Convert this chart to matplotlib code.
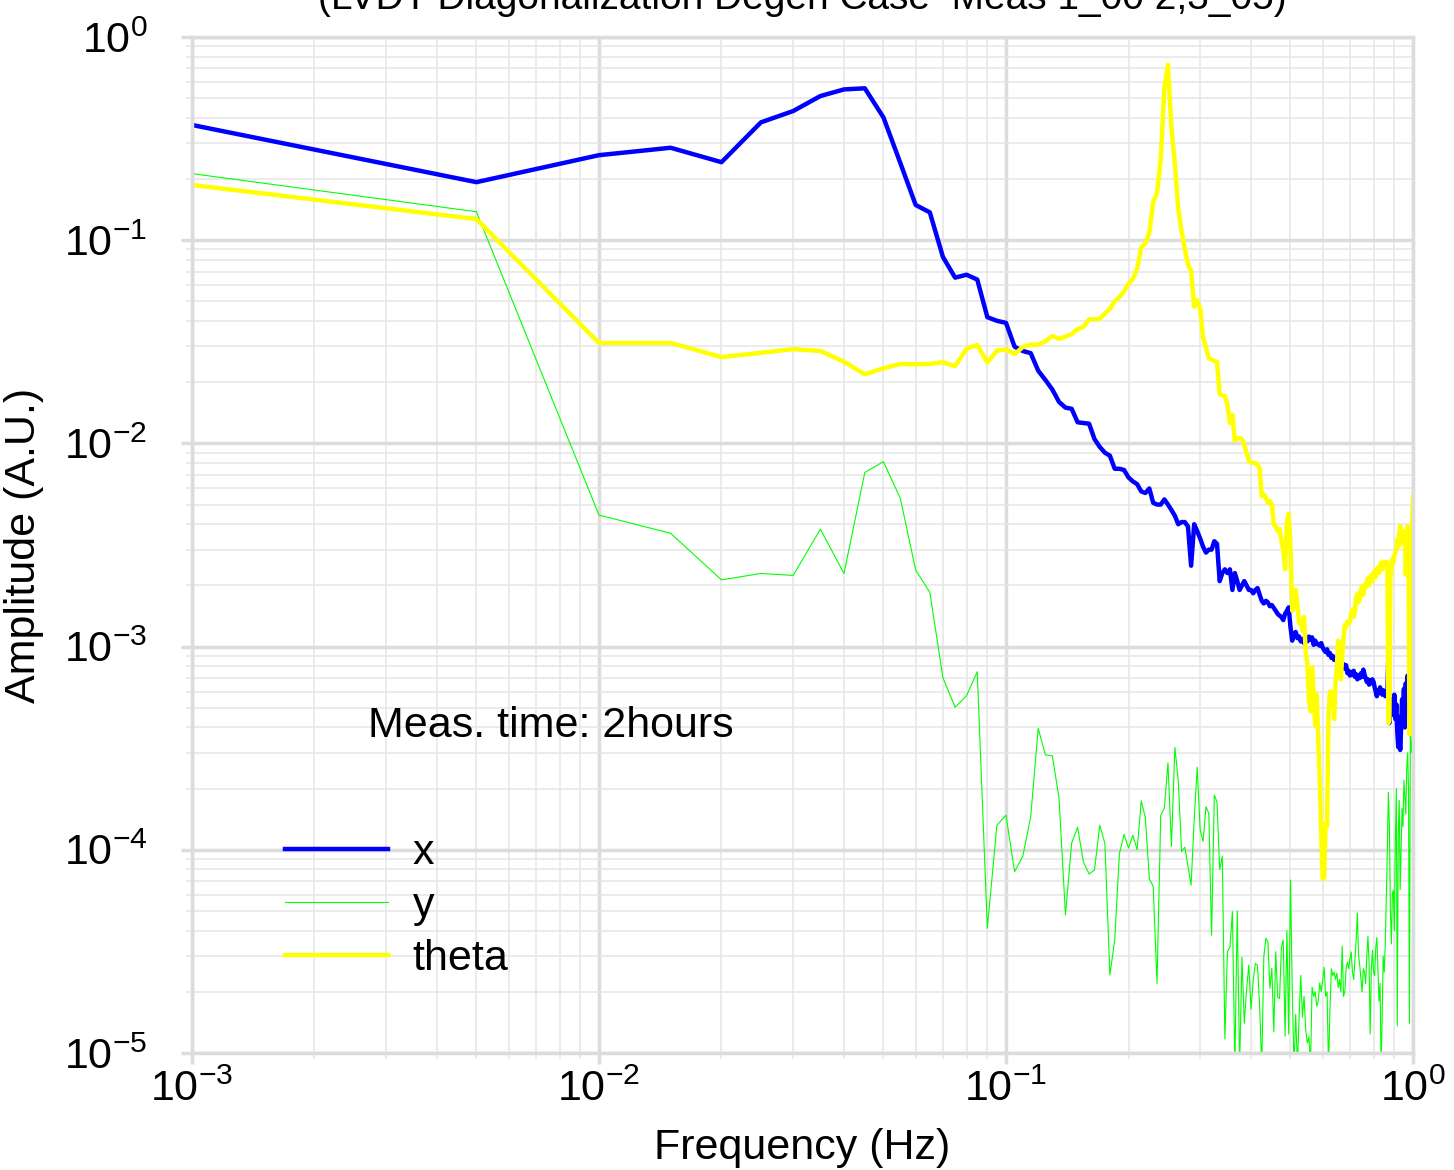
import matplotlib
matplotlib.use("Agg")
import matplotlib.pyplot as plt
from matplotlib.ticker import LogLocator, NullFormatter

plt.rcParams['font.family'] = ['Liberation Sans', 'DejaVu Sans']
plt.rcParams['axes.unicode_minus'] = True

# frequency bins: first bin shown at 1 mHz, then a 5 mHz grid up to 1 Hz
freq = [0.001] + [round(0.005 * k, 3) for k in range(1, 201)]

x_amp = [
    0.369, 0.193, 0.262, 0.285, 0.242, 0.380, 0.432, 0.512, 0.552, 0.559,
    0.402, 0.240, 0.149, 0.137, 0.0827, 0.0654, 0.0676, 0.0640, 0.0418, 0.0401,
    0.0392, 0.0299, 0.0285, 0.0278, 0.0228, 0.0205, 0.0184, 0.0160, 0.0150, 0.0148,
    0.0127, 0.0126, 0.0125, 0.0105, 0.0096, 0.0090, 0.0087, 0.0075, 0.0075, 0.0074,
    0.0068, 0.0065, 0.0063, 0.0058, 0.0057, 0.0060, 0.0051, 0.0050, 0.0050, 0.0053,
    0.0050, 0.0047, 0.0044, 0.0040, 0.0041, 0.0041, 0.0039, 0.0025, 0.0040, 0.0037,
    0.0034, 0.0031, 0.0029, 0.0030, 0.0030, 0.0033, 0.0032, 0.0021, 0.0023, 0.0024,
    0.0023, 0.0024, 0.0019, 0.0023, 0.0021, 0.0019, 0.0020, 0.0021, 0.0020, 0.0019,
    0.0019, 0.00183, 0.0019, 0.00194, 0.0018, 0.00168, 0.00163, 0.00168, 0.00165, 0.00158,
    0.0016, 0.00155, 0.0015, 0.00145, 0.00142, 0.0014, 0.00135, 0.00145, 0.0015, 0.00156,
    0.00125, 0.00107, 0.00115, 0.00118, 0.0011, 0.00112, 0.00106, 0.00109, 0.00104, 0.00108,
    0.00106, 0.00112, 0.00108, 0.00111, 0.00102, 0.00107, 0.00103, 0.00103, 0.00101, 0.00104,
    0.00099, 0.00096, 0.00094, 0.00097, 0.00091, 0.00093, 0.00088, 0.00090, 0.00086, 0.00088,
    0.00085, 0.00087, 0.00082, 0.00084, 0.00080, 0.00082, 0.00078, 0.00081, 0.00074, 0.00076,
    0.00072, 0.00075, 0.00073, 0.00076, 0.00071, 0.00073, 0.00069, 0.00072, 0.00070, 0.00074,
    0.00071, 0.00077, 0.00073, 0.00070, 0.00067, 0.00069, 0.00065, 0.00068, 0.00066, 0.00069,
    0.00067, 0.00063, 0.00060, 0.00057, 0.00061, 0.00059, 0.00063, 0.00060, 0.00058, 0.00061,
    0.00059, 0.00057, 0.00060, 0.00057, 0.00094, 0.00042, 0.00050, 0.00046, 0.00055, 0.00049,
    0.00058, 0.00044, 0.00052, 0.00038, 0.00032, 0.00045, 0.00031, 0.00040, 0.00055, 0.00047,
    0.00062, 0.00040, 0.00066, 0.00048, 0.00072, 0.00055, 0.00080, 0.00060, 0.00095, 0.00080,
    0.00117,
]

y_amp = [
    0.2126, 0.138, 0.00444, 0.00361, 0.00213, 0.00229, 0.00224, 0.00378, 0.00229, 0.0072,
    0.00813, 0.00537, 0.00238, 0.00185, 0.000703, 0.000503, 0.000573, 0.000752, 4.11e-5, 1.32e-4,
    1.48e-4, 7.8e-5, 9.3e-5, 1.45e-4, 3.96e-4, 2.93e-4, 2.9e-4, 1.8e-4, 4.78e-5, 1.08e-4,
    1.29e-4, 8.7e-5, 7.6e-5, 7.95e-5, 1.32e-4, 1.076e-4, 2.42e-5, 3.6e-5, 9.6e-5, 1.19e-4,
    1.02e-4, 1.18e-4, 1.0e-4, 1.74e-4, 1.44e-4, 7.2e-5, 6.6e-5, 2.2e-5, 1.48e-4, 1.6e-4,
    2.68e-4, 1.04e-4, 3.19e-4, 2.2e-4, 9.8e-5, 1.03e-4, 8.3e-5, 6.7e-5, 1.40e-4, 2.55e-4,
    1.25e-4, 1.1e-4, 1.63e-4, 1.51e-4, 3.8e-5, 1.86e-4, 1.72e-4, 8.0e-5, 9.3e-5, 1.17e-5,
    3.15e-5, 3.33e-5, 4.96e-5, 8.5e-6, 5.0e-5, 8.5e-6, 2.96e-5, 1.4e-5, 2.04e-5, 2.71e-5,
    1.64e-5, 2.29e-5, 2.76e-5, 2.7e-5, 1.69e-5, 8.5e-6, 2.98e-5, 3.67e-5, 3.53e-5, 2.08e-5,
    2.61e-5, 1.27e-5, 3.15e-5, 1.89e-5, 1.85e-5, 3.3e-5, 3.6e-5, 1.21e-5, 4.0e-5, 1.24e-5,
    7.1e-5, 2.07e-5, 8.5e-6, 1.55e-5, 8.5e-6, 1.5e-5, 2.41e-5, 1.5e-5, 1.9e-5, 1.3e-5,
    1.12e-5, 1.2e-5, 8.5e-6, 2.11e-5, 1.9e-5, 2.0e-5, 1.7e-5, 1.8e-5, 2.21e-5, 2.0e-5,
    2.3e-5, 2.64e-5, 1.9e-5, 2.0e-5, 8.5e-6, 1.6e-5, 2.6e-5, 2.4e-5, 2.5e-5, 2.3e-5,
    2.47e-5, 2.1e-5, 2.3e-5, 2.0e-5, 3.36e-5, 1.9e-5, 2.0e-5, 2.6e-5, 2.8e-5, 2.6e-5,
    2.9e-5, 3.14e-5, 2.5e-5, 2.3e-5, 2.9e-5, 3.59e-5, 4.89e-5, 3.0e-5, 2.7e-5, 2.3e-5,
    2.0e-5, 2.6e-5, 2.5e-5, 2.2e-5, 3.0e-5, 3.75e-5, 2.8e-5, 1.24e-5, 2.6e-5, 3.2e-5,
    2.5e-5, 2.4e-5, 3.3e-5, 3.7e-5, 2.6e-5, 1.8e-5, 2.2e-5, 8.5e-6, 1.5e-5, 3.0e-5,
    2.5e-5, 3.5e-5, 6.0e-5, 1.0e-4, 1.92e-4, 1.3e-4, 5.0e-5, 3.44e-5, 6.09e-5, 6.3e-5,
    4.0e-5, 1.1e-4, 2.0e-4, 1.36e-5, 1.2e-4, 1.75e-4, 6.37e-5, 1.0e-4, 1.6e-4, 1.3e-4,
    2.2e-4, 1.8e-4, 1.5e-4, 2.5e-4, 3.0e-4, 2.0e-4, 1.4e-5, 3.7e-4, 3.0e-4, 3.5e-4,
    4.2e-4,
]

theta_amp = [
    0.187, 0.127, 0.0312, 0.0312, 0.0266, 0.0279, 0.0291, 0.0285, 0.0252, 0.0219,
    0.0234, 0.0246, 0.0245, 0.0246, 0.0251, 0.0240, 0.0292, 0.0305, 0.0250, 0.0286,
    0.0290, 0.0275, 0.0298, 0.0306, 0.0306, 0.0318, 0.0338, 0.0327, 0.0335, 0.0345,
    0.0365, 0.0374, 0.0408, 0.0408, 0.0410, 0.0436, 0.0459, 0.0500, 0.0525, 0.0560,
    0.0611, 0.0644, 0.0723, 0.0922, 0.0965, 0.1084, 0.1543, 0.1707, 0.2494, 0.561,
    0.730, 0.356, 0.237, 0.143, 0.111, 0.0907, 0.0760, 0.0705, 0.0470, 0.0507,
    0.0459, 0.0333, 0.0295, 0.0263, 0.0258, 0.0254, 0.0252, 0.0175, 0.0172, 0.0171,
    0.0155, 0.0126, 0.0138, 0.0103, 0.0106, 0.0106, 0.0105, 0.0098, 0.0090, 0.0082,
    0.0081, 0.0080, 0.0080, 0.0079, 0.0075, 0.0055, 0.0056, 0.0054, 0.0051, 0.0052,
    0.0050, 0.0040, 0.0039, 0.0037, 0.0038, 0.0033, 0.0030, 0.0024, 0.0041, 0.0045,
    0.0031, 0.0015, 0.0016, 0.0019, 0.0016, 0.0013, 0.00136, 0.0012, 0.0014, 0.00094,
    0.00082, 0.00055, 0.00048, 0.00079, 0.00060, 0.00041, 0.00058, 0.00036, 0.00022, 0.00012,
    7.2e-5, 7.3e-5, 0.000135, 0.00013, 0.00046, 0.00060, 0.00055, 0.00060, 0.00044, 0.00066,
    0.00080, 0.00107, 0.00085, 0.00069, 0.00090, 0.00110, 0.00128, 0.00125, 0.00133, 0.00130,
    0.00133, 0.00145, 0.00152, 0.00140, 0.00148, 0.00175, 0.00182, 0.00165, 0.00170, 0.00190,
    0.00198, 0.00180, 0.00200, 0.00195, 0.00210, 0.00217, 0.00200, 0.00215, 0.00225, 0.00210,
    0.00230, 0.00237, 0.00220, 0.00235, 0.00245, 0.00230, 0.00250, 0.00259, 0.00240, 0.00255,
    0.00262, 0.00250, 0.00258, 0.00260, 0.00042, 0.00043, 0.00217, 0.00240, 0.00270, 0.00260,
    0.00282, 0.00290, 0.00300, 0.00337, 0.00310, 0.00360, 0.00393, 0.00340, 0.00322, 0.00360,
    0.00330, 0.00370, 0.00226, 0.00330, 0.00390, 0.00340, 0.00037, 0.00040, 0.00300, 0.00420,
    0.00547,
]

grid_major = '#dcdcdc'
grid_minor = '#e6e6e6'
fs = 31

fig = plt.figure(figsize=(14.54, 11.70), dpi=100)
ax = fig.add_axes([0.1320, 0.1, 0.8398, 0.8684])

ly, = ax.plot(freq, y_amp, color='#00ff00', linewidth=0.8, label='y')
lx, = ax.plot(freq, x_amp, color='#0000ff', linewidth=3.2, label='x')
lt, = ax.plot(freq, theta_amp, color='#ffff00', linewidth=3.2, label='theta')

ax.set_xscale('log')
ax.set_yscale('log')
ax.set_xlim(1e-3, 1e0)
ax.set_ylim(1e-5, 1e0)

ax.xaxis.set_major_locator(LogLocator(base=10, numticks=10))
ax.yaxis.set_major_locator(LogLocator(base=10, numticks=10))
ax.xaxis.set_minor_locator(LogLocator(base=10, subs=range(2, 10), numticks=20))
ax.yaxis.set_minor_locator(LogLocator(base=10, subs=range(2, 10), numticks=20))
ax.xaxis.set_minor_formatter(NullFormatter())
ax.yaxis.set_minor_formatter(NullFormatter())

ax.set_axisbelow(True)
ax.grid(True, which='major', color=grid_major, linewidth=2.5)
ax.grid(True, which='minor', color=grid_minor, linewidth=1.1)
for s in ax.spines.values():
    s.set_color(grid_major)
    s.set_linewidth(2.5)

ax.tick_params(which='major', direction='out', length=8, width=2.5, color=grid_major,
               labelsize=fs)
ax.tick_params(which='minor', direction='out', length=4, width=1.1, color=grid_minor)
ax.tick_params(axis='x', which='major', pad=4)
ax.tick_params(axis='y', which='major', pad=24)

ax.set_xlabel('Frequency (Hz)', fontsize=fs, labelpad=13)
ax.set_ylabel('Amplitude (A.U.)', fontsize=fs, labelpad=14)

# title sits mostly above the canvas, as in the source image
fig.text(0.5516, 1 - 9 / 1170, '(LVDT Diagonalization Degen Case  Meas 1_00 2,3_05)',
         ha='center', va='baseline', fontsize=28)

ax.text(0.1441, 0.3218, 'Meas. time: 2hours', transform=ax.transAxes,
        ha='left', va='center', fontsize=fs)

ax.legend(handles=[lx, ly, lt], loc='upper left', bbox_to_anchor=(0.0762, 0.2166),
          frameon=False, fontsize=fs, handlelength=2.39, handletextpad=0.58,
          labelspacing=0.3, borderpad=0, borderaxespad=0)

fig.savefig('out.png', dpi=100)
